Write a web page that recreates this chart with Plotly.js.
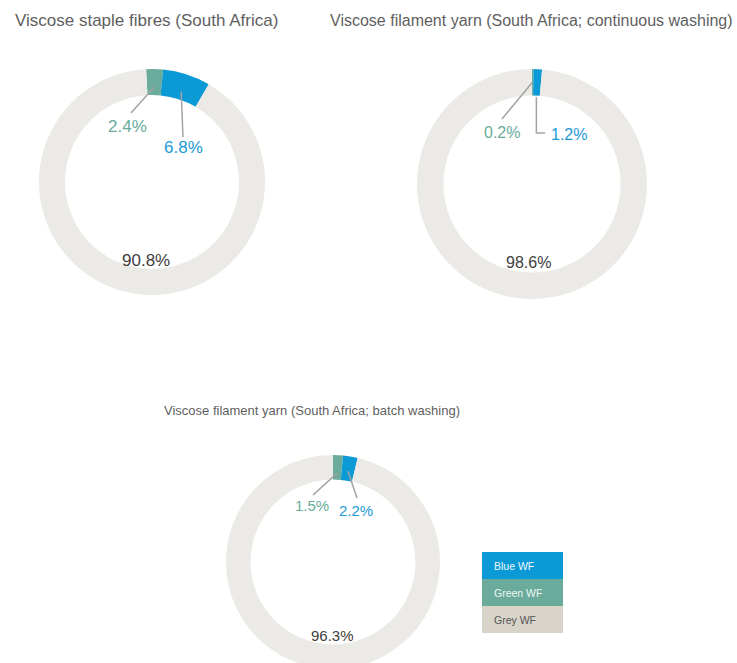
<!DOCTYPE html>
<html>
<head>
<meta charset="utf-8">
<script src="https://cdn.plot.ly/plotly-3.0.1.min.js"></script>
<style>
html,body{margin:0;padding:0;background:#fff;overflow:hidden;}
#chart{width:737px;height:680px;}
</style>
</head>
<body>
<div id="chart"></div>
<script>
// ---- data ----
const categories = ['Green WF', 'Blue WF', 'Grey WF']; // clockwise from 12 o'clock
const stapleValues = [2.4, 6.8, 90.8];
const continuousValues = [0.2, 1.2, 98.6];
const batchValues = [1.5, 2.2, 96.3];
const chartTitles = [
  'Viscose staple fibres (South Africa)',
  'Viscose filament yarn (South Africa; continuous washing)',
  'Viscose filament yarn (South Africa; batch washing)'
];
const legendLabels = ['Blue WF', 'Green WF', 'Grey WF'];

// ---- styles ----
const W = 737, H = 680;
const FONT = 'Liberation Sans, Arial, sans-serif';
const sliceColors = {'Green WF': '#6aab9b', 'Blue WF': '#0b9ad6', 'Grey WF': '#ebeae6'};
const labelColors = {'Green WF': '#6aab9b', 'Blue WF': '#1c9ad6', 'Grey WF': '#404040'};
const legendColors = {'Blue WF': '#0b9ad6', 'Green WF': '#6aab9b', 'Grey WF': '#d9d4ca'};
const legendTextColors = {'Blue WF': '#eef7fc', 'Green WF': '#eef7f4', 'Grey WF': '#555555'};

const X = p => p / W;
const Y = p => (H - p) / H;

const pies = [
  {values: stapleValues, title: chartTitles[0], cx: 152, cy: 182, r: 113, rot: -3, fs: 17,
   tx: 13, ty: 20, tfs: 17,
   text: [[-24, -56], [31, -35], [-6, 78]],
   headR: [95, 95], tail: [[3, -13], [0, -10]], elbow: [false, false]},
  {values: continuousValues, title: chartTitles[1], cx: 532, cy: 184, r: 115, rot: 0, fs: 16,
   tx: 328, ty: 20, tfs: 16,
   text: [[-30, -51], [37, -49], [-4, 78]],
   headR: [102, 87], tail: [[0, -14], [-24, -2]], elbow: [false, true]},
  {values: batchValues, title: chartTitles[2], cx: 333, cy: 562, r: 107, rot: 0, fs: 15,
   tx: 162, ty: 410, tfs: 13,
   text: [[-21, -57], [23, -52], [-1, 73]],
   headR: [89, 92], tail: [[1, -10], [1, -12]], elbow: [false, false]}
];

const data = [];
const annotations = [];
const shapes = [];

pies.forEach(p => {
  data.push({
    type: 'pie',
    labels: categories,
    values: p.values,
    sort: false,
    direction: 'clockwise',
    rotation: p.rot,
    hole: 0.77,
    textinfo: 'none',
    hoverinfo: 'label+value',
    showlegend: false,
    marker: {colors: categories.map(c => sliceColors[c]), line: {width: 0}},
    domain: {x: [X(p.cx - p.r), X(p.cx + p.r)], y: [Y(p.cy + p.r), Y(p.cy - p.r)]}
  });
  annotations.push({
    xref: 'paper', yref: 'paper', x: X(p.tx), y: Y(p.ty), xanchor: 'left', yanchor: 'middle',
    text: p.title, showarrow: false, font: {family: FONT, size: p.tfs, color: '#5f5f5f'}
  });
  const total = p.values.reduce((a, b) => a + b, 0);
  let cum = 0;
  p.values.forEach((v, i) => {
    const mid = (p.rot + (cum + v / 2) / total * 360) * Math.PI / 180;
    cum += v;
    const tx = p.cx + p.text[i][0], ty = p.cy + p.text[i][1];
    annotations.push({
      xref: 'paper', yref: 'paper', x: X(tx), y: Y(ty), xanchor: 'center', yanchor: 'middle',
      text: v.toFixed(1) + '%', showarrow: false,
      font: {family: FONT, size: p.fs, color: labelColors[categories[i]]}
    });
    if (i < 2) {
      const hx = p.cx + p.headR[i] * Math.sin(mid);
      const hy = p.cy - p.headR[i] * Math.cos(mid);
      const ex = tx + p.tail[i][0], ey = ty + p.tail[i][1];
      let path;
      if (p.elbow[i]) {
        path = `M ${X(hx)} ${Y(hy)} L ${X(hx)} ${Y(ey)} L ${X(ex)} ${Y(ey)}`;
      } else {
        path = `M ${X(hx)} ${Y(hy)} L ${X(ex)} ${Y(ey)}`;
      }
      shapes.push({type: 'path', xref: 'paper', yref: 'paper', path: path,
        line: {color: '#a3a3a3', width: 1.5}});
    }
  });
});

// legend boxes
const legX0 = 482, legX1 = 563, legY0 = 552, legRow = 27;
legendLabels.forEach((lab, i) => {
  const y0 = legY0 + i * legRow, y1 = y0 + legRow;
  shapes.push({type: 'rect', xref: 'paper', yref: 'paper',
    x0: X(legX0), x1: X(legX1), y0: Y(y1), y1: Y(y0),
    fillcolor: legendColors[lab], line: {width: 0}, layer: 'above'});
  annotations.push({xref: 'paper', yref: 'paper', x: X(legX0 + 10), y: Y((y0 + y1) / 2),
    xanchor: 'left', yanchor: 'middle', text: lab, showarrow: false,
    font: {family: FONT, size: 10.5, color: legendTextColors[lab]}});
});

const layout = {
  width: W, height: H,
  margin: {l: 0, r: 0, t: 0, b: 0},
  paper_bgcolor: '#ffffff',
  showlegend: false,
  annotations: annotations,
  shapes: shapes
};

Plotly.newPlot('chart', data, layout, {displayModeBar: false, staticPlot: true});
</script>
</body>
</html>
